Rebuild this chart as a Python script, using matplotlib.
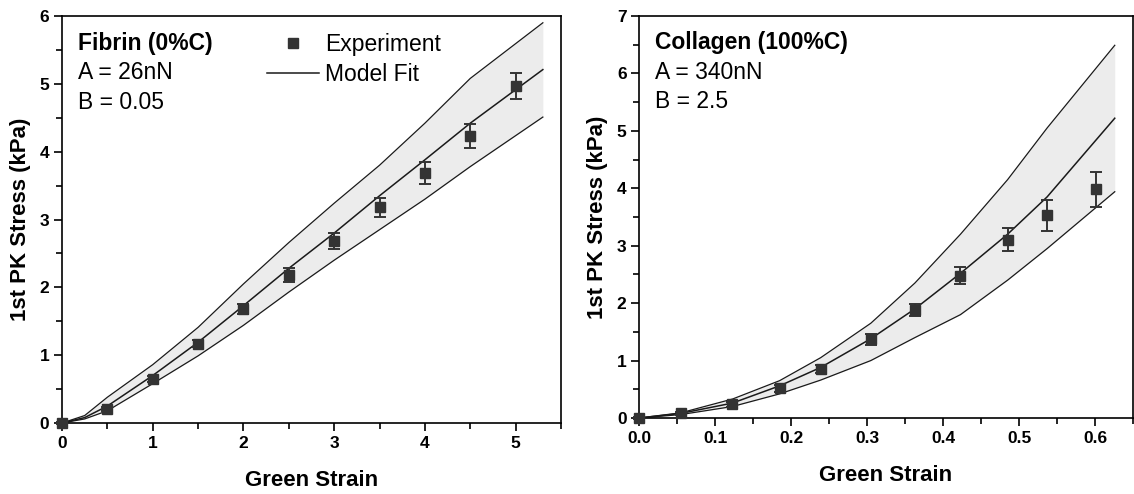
import matplotlib
matplotlib.use("Agg")
import matplotlib.pyplot as plt
from matplotlib.lines import Line2D
from matplotlib.ticker import MultipleLocator

plt.rcParams["font.family"] = ["Liberation Sans", "DejaVu Sans"]

# ---- Fibrin (0%C) ----
fib_x = [0, 0.5, 1.0, 1.5, 2.0, 2.5, 3.0, 3.5, 4.0, 4.5, 5.0]
fib_y = [0, 0.21, 0.65, 1.17, 1.68, 2.18, 2.68, 3.18, 3.69, 4.23, 4.97]
fib_err = [0.02, 0.03, 0.05, 0.05, 0.07, 0.10, 0.12, 0.14, 0.16, 0.18, 0.19]
fib_model_x = [0, 0.25, 0.5, 1.0, 1.5, 2.0, 2.5, 3.0, 3.5, 4.0, 4.5, 5.3]
fib_model = [0, 0.08, 0.25, 0.70, 1.19, 1.73, 2.28, 2.80, 3.35, 3.88, 4.42, 5.21]
fib_upper = [0, 0.11, 0.38, 0.86, 1.41, 2.05, 2.66, 3.24, 3.80, 4.42, 5.08, 5.90]
fib_lower = [0, 0.06, 0.18, 0.58, 0.99, 1.44, 1.93, 2.40, 2.85, 3.30, 3.78, 4.51]

# ---- Collagen (100%C) ----
col_x = [0, 0.055, 0.123, 0.185, 0.239, 0.305, 0.363, 0.423, 0.485, 0.537, 0.601]
col_y = [0, 0.08, 0.24, 0.52, 0.85, 1.37, 1.88, 2.48, 3.10, 3.53, 3.98]
col_err = [0.02, 0.03, 0.04, 0.06, 0.07, 0.10, 0.11, 0.15, 0.20, 0.27, 0.30]
col_model_x = [0, 0.055, 0.123, 0.185, 0.239, 0.305, 0.363, 0.423, 0.485, 0.537, 0.626]
col_model = [0, 0.08, 0.26, 0.56, 0.88, 1.38, 1.90, 2.52, 3.20, 3.85, 5.22]
col_upper = [0, 0.09, 0.33, 0.65, 1.05, 1.65, 2.35, 3.20, 4.15, 5.05, 6.49]
col_lower = [0, 0.06, 0.20, 0.42, 0.66, 1.00, 1.40, 1.80, 2.40, 2.95, 3.94]

LINE = "#1a1a1a"
MARK = "#333333"
FILL = "#ececec"

TICK_FS = 12.5
LABEL_FS = 16
TEXT_FS = 16.5

fig = plt.figure(figsize=(11.34, 4.94), dpi=100)
ax1 = fig.add_axes([62 / 1134, 1 - 423 / 494, 499 / 1134, 407 / 494])
ax2 = fig.add_axes([639 / 1134, 1 - 418 / 494, 494 / 1134, 402 / 494])


def draw_panel(ax, mx, mid, lo, hi, ex, ey, ee):
    ax.fill_between(mx, lo, hi, color=FILL, lw=0, zorder=1)
    ax.plot(mx, hi, color=LINE, lw=0.9, zorder=2)
    ax.plot(mx, lo, color=LINE, lw=0.9, zorder=2)
    ax.plot(mx, mid, color=LINE, lw=1.1, zorder=3)
    ax.errorbar(ex, ey, yerr=ee, fmt="s", ms=6.5, color=MARK, ecolor=MARK,
                elinewidth=1.4, capsize=4, capthick=1.4, zorder=4, clip_on=False)


def style_axis(ax, xmax, ymax, xmaj, xmin, xfmt):
    ax.set_xlim(0, xmax)
    ax.set_ylim(0, ymax)
    ax.xaxis.set_major_locator(MultipleLocator(xmaj))
    ax.xaxis.set_minor_locator(MultipleLocator(xmin))
    ax.yaxis.set_major_locator(MultipleLocator(1))
    ax.yaxis.set_minor_locator(MultipleLocator(0.5))
    ax.xaxis.set_major_formatter(xfmt)
    ax.tick_params(which="major", direction="out", length=6, width=1.2,
                   labelsize=TICK_FS, pad=3)
    ax.tick_params(which="minor", direction="out", length=4, width=1.2)
    for lab in ax.get_xticklabels() + ax.get_yticklabels():
        lab.set_fontweight("bold")
    for sp in ax.spines.values():
        sp.set_linewidth(1.2)
    ax.set_xlabel("Green Strain", fontsize=LABEL_FS, fontweight="bold", labelpad=14)
    ax.set_ylabel("1st PK Stress (kPa)", fontsize=LABEL_FS, fontweight="bold", labelpad=6)


draw_panel(ax1, fib_model_x, fib_model, fib_lower, fib_upper, fib_x, fib_y, fib_err)
draw_panel(ax2, col_model_x, col_model, col_lower, col_upper, col_x, col_y, col_err)

style_axis(ax1, 5.5, 6, 1, 0.5, "{x:.0f}")
style_axis(ax2, 0.65, 7, 0.1, 0.05, "{x:.1f}")

# annotation blocks
for ax, title, a_txt, b_txt in [(ax1, "Fibrin (0%C)", "A = 26nN", "B = 0.05"),
                                (ax2, "Collagen (100%C)", "A = 340nN", "B = 2.5")]:
    ax.text(0.032, 0.933, title, transform=ax.transAxes, fontsize=TEXT_FS,
            fontweight="bold", va="center", ha="left")
    ax.text(0.032, 0.86, a_txt, transform=ax.transAxes, fontsize=TEXT_FS,
            va="center", ha="left")
    ax.text(0.032, 0.787, b_txt, transform=ax.transAxes, fontsize=TEXT_FS,
            va="center", ha="left")

handles = [Line2D([], [], marker="s", ls="none", color=MARK, ms=6.5),
           Line2D([], [], color=LINE, lw=1.1)]
ax1.legend(handles, ["Experiment", "Model Fit"], loc="upper left",
           bbox_to_anchor=(0.392, 0.98), frameon=False, fontsize=TEXT_FS,
           handlelength=2.3, handletextpad=0.25, labelspacing=0.3,
           borderaxespad=0)

fig.savefig("out.png", dpi=100)
